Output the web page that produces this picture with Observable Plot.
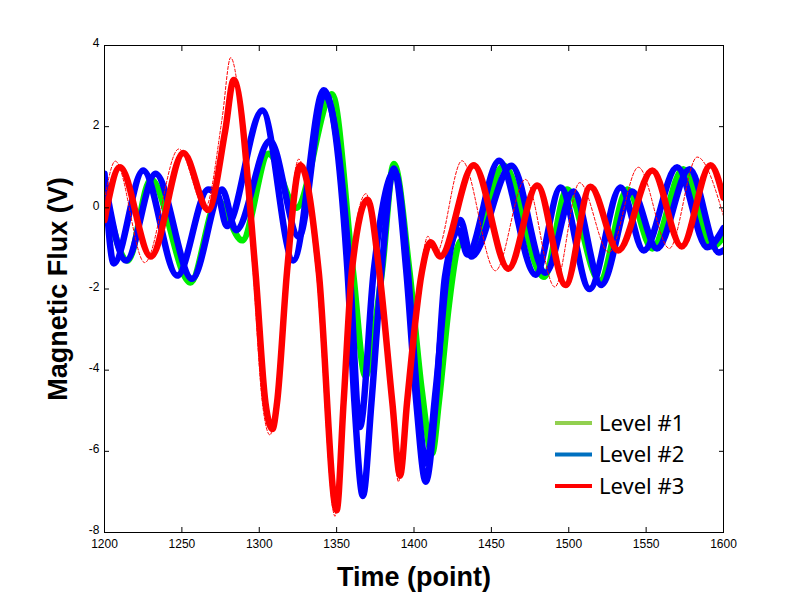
<!DOCTYPE html>
<html><head><meta charset="utf-8">
<script src="https://cdn.jsdelivr.net/npm/d3@7"></script>
<script src="https://cdn.jsdelivr.net/npm/@observablehq/plot@0.6"></script>
<style>body{margin:0;background:#fff;} #chart{width:800px;height:606px;}</style>
</head><body><div id="chart"></div>
<script>
// Level #1 (green) main bundle
const level1Time = [1200,1215,1230,1255.6,1273,1289,1306,1324,1347,1360.5,1368.6,1374.5,1379.5,1387,1397,1405,1411.7,1416,1422.5,1428,1431,1436,1458,1484,1499,1520,1538,1554,1574,1593,1600];
const level1Flux = [0.42,-1.3,0.7,-1.84,0.18,-0.8,1.33,0.0,2.8,-1.55,-4.15,-3.0,-1.5,1.08,-1.55,-4.5,-6.05,-4.8,-2.4,-1.0,-0.8,-1.15,1.04,-1.7,0.45,-1.8,0.45,-1.0,0.95,-0.95,-0.7];
// Level #2 (blue) two sub-bundles
const level2aTime = [1200,1206,1225,1247,1267,1273,1279,1302,1322,1341.7,1357,1361.5,1367,1372.5,1379,1387,1395,1401.5,1407.6,1414,1420,1429,1434.5,1455,1478.6,1494.7,1513.5,1533.5,1548.5,1570,1589.5,1600];
const level2aFlux = [0.84,-1.37,0.92,-1.67,0.45,0.35,-0.45,2.4,-1.3,2.9,-1.55,-4.8,-7.1,-4.8,-1.55,0.97,-1.55,-4.8,-6.75,-4.8,-1.7,-0.55,-1.15,1.16,-1.65,0.5,-2.0,0.5,-1.05,1.0,-0.97,-0.5];
const level2bTime = [1200,1214,1233,1256.6,1276,1285,1307,1325.6,1342,1358.5,1365,1374,1387.5,1396,1402.5,1408,1414,1421,1430,1437,1463,1485,1503,1521,1541,1557,1578,1597,1600];
const level2bFlux = [0.7,-1.3,0.84,-1.75,0.45,-0.55,1.65,-0.72,2.8,-1.55,-5.4,-1.55,0.9,-1.55,-4.8,-6.3,-4.5,-1.7,-0.3,-1.2,1.04,-1.6,0.4,-1.9,0.4,-1.0,0.95,-1.1,-1.05];
// Level #3 (red) main bundle
const level3Time = [1200,1210,1230,1251,1267,1278,1283.5,1297.5,1304,1308.5,1311.5,1318,1326.6,1338.5,1350,1354.5,1360,1370,1377.5,1386,1391,1395.5,1405,1410.6,1417,1438.6,1461,1479.6,1498,1514,1532,1554,1573,1591.6,1600];
const level3Flux = [-0.3,1.0,-1.2,1.35,-0.05,1.9,3.15,-1.55,-4.8,-5.45,-4.8,-1.55,1.05,-1.6,-7.45,-4.8,-1.5,0.2,-1.55,-4.8,-6.6,-4.8,-1.6,-0.85,-1.2,1.05,-1.5,0.55,-1.9,0.52,-1.05,0.92,-0.95,1.05,0.25];
// Level #3 thin outlying trace (dashed, leads the bundle)
const level3ThinTime = [1200,1207,1226,1248,1265,1276,1281.5,1296,1302,1307,1310.5,1317,1325.5,1337,1349,1353.5,1359,1369,1376.5,1385,1390,1394.5,1404,1409,1414,1431,1452.6,1472,1491,1507,1526,1545,1565,1583,1600];
const level3ThinFlux = [0.2,1.15,-1.35,1.45,0.0,2.2,3.7,-1.55,-4.8,-5.6,-4.8,-1.55,1.2,-1.6,-7.6,-4.8,-1.5,0.35,-1.55,-4.8,-6.75,-4.8,-1.6,-0.7,-1.15,1.16,-1.55,0.7,-1.95,0.62,-1.1,1.0,-1.0,1.25,-0.2];

const xTicks = [1200,1250,1300,1350,1400,1450,1500,1550,1600];
const yTicks = [-8,-6,-4,-2,0,2,4];
const seriesNames = ["Level #1","Level #2","Level #3"];
const traceColors = ["#00ee00","#0000ff","#ff0000"];
const legendColors = ["#92d050","#0070c0","#ff0000"];
const xTitle = "Time (point)";
const yTitle = "Magnetic Flux (V)";

const traces = [
  {id:"L1", level:seriesNames[0], t:level1Time, v:level1Flux, thin:false},
  {id:"L2a", level:seriesNames[1], t:level2aTime, v:level2aFlux, thin:false},
  {id:"L2b", level:seriesNames[1], t:level2bTime, v:level2bFlux, thin:false},
  {id:"L3thin", level:seriesNames[2], t:level3ThinTime, v:level3ThinFlux, thin:true},
  {id:"L3", level:seriesNames[2], t:level3Time, v:level3Flux, thin:false}
];
const toRows = tr => tr.t.map((t,i) => ({t, v: tr.v[i], id: tr.id, level: tr.level}));
const thickRows = traces.filter(d => !d.thin && d.id !== "L3").flatMap(toRows);
const thinRows = traces.filter(d => d.thin).flatMap(toRows);
const redRows = traces.filter(d => d.id === "L3").flatMap(toRows);

const W = 800, H = 606, mL = 104, mR = 77, mT = 45, mB = 74;
const fmt = d => String(d);
const noText = () => "";

const plot = Plot.plot({
  width: W, height: H, marginLeft: mL, marginRight: mR, marginTop: mT, marginBottom: mB,
  x: {domain: [1200, 1600]},
  y: {domain: [-8, 4]},
  color: {domain: seriesNames, range: traceColors},
  style: {fontFamily: "'Liberation Sans', Arial, sans-serif", fontSize: "12px", background: "white", color: "black"},
  marks: [
    Plot.line(thickRows, {x: "t", y: "v", z: "id", stroke: "level", strokeWidth: 6.5, curve: "monotone-x", strokeLinejoin: "round", clip: true}),
    Plot.line(thinRows, {x: "t", y: "v", z: "id", stroke: "level", strokeWidth: 1, strokeDasharray: "3,2", curve: "monotone-x", clip: true}),
    Plot.line(redRows, {x: "t", y: "v", z: "id", stroke: "level", strokeWidth: 6.5, curve: "monotone-x", strokeLinejoin: "round", clip: true}),
    Plot.frame({stroke: "black", strokeWidth: 1}),
    Plot.axisX({anchor: "bottom", ticks: xTicks, tickSize: 5, dy: -5, tickFormat: noText, label: null}),
    Plot.axisX({anchor: "top", ticks: xTicks, tickSize: 5, dy: 5, tickFormat: noText, label: null}),
    Plot.axisY({anchor: "left", ticks: yTicks, tickSize: 5, dx: 5, tickFormat: noText, label: null}),
    Plot.axisY({anchor: "right", ticks: yTicks, tickSize: 5, dx: -5, tickFormat: noText, label: null}),
    Plot.axisX({anchor: "bottom", ticks: xTicks, tickSize: 0, tickPadding: 7, tickFormat: fmt, label: null, fontSize: 12}),
    Plot.axisY({anchor: "left", ticks: yTicks, tickSize: 0, tickPadding: 5, dy: -2, tickFormat: fmt, label: null, fontSize: 12}),
    Plot.text([xTitle], {frameAnchor: "bottom", textAnchor: "middle", lineAnchor: "middle", dy: 45, text: d => d, fontSize: 27, fontWeight: "bold"}),
    Plot.text([yTitle], {frameAnchor: "left", textAnchor: "middle", lineAnchor: "middle", dx: -46, dy: 0, rotate: -90, text: d => d, fontSize: 27, fontWeight: "bold"})
  ]
});

const svg = d3.select(plot);
const lg = svg.append("g").attr("class", "legend").attr("text-anchor", "start");
seriesNames.forEach((name, i) => {
  const cy = 423 + i * 31.5;
  lg.append("line").attr("x1", 555).attr("x2", 592).attr("y1", cy).attr("y2", cy)
    .attr("stroke", legendColors[i]).attr("stroke-width", 4);
  lg.append("text").attr("x", 599).attr("y", cy).attr("dy", "0.35em")
    .attr("text-anchor", "start")
    .attr("font-family", "'Noto Sans', 'Open Sans', sans-serif").attr("font-size", 22)
    .attr("fill", "black").text(name);
});

document.getElementById("chart").appendChild(plot);
</script>
</body></html>
